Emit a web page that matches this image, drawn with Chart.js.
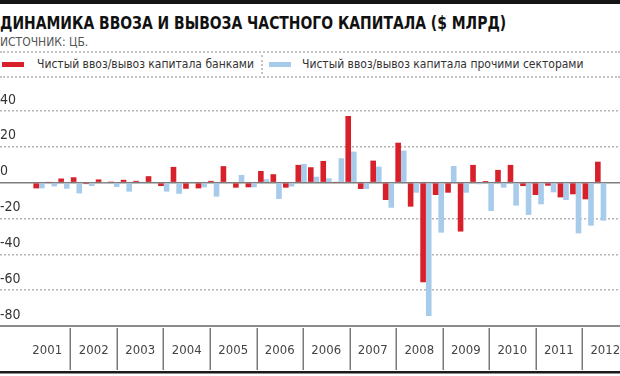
<!DOCTYPE html>
<html>
<head>
<meta charset="utf-8">
<script src="https://cdn.jsdelivr.net/npm/chart.js@4.4.1/dist/chart.umd.min.js"></script>
<style>
  body { margin: 0; width: 620px; height: 376px; overflow: hidden; background: #fff; position: relative;
         font-family: 'Liberation Sans Narrow', 'DejaVu Sans Condensed', 'Liberation Sans', sans-serif; }
  #topline { position: absolute; left: 0; top: 0; width: 620px; height: 4px; background: #151515; }
  #title { position: absolute; left: 0; top: 12px; font-size: 18px; font-weight: bold; color: #111; white-space: nowrap;
           transform: scaleX(0.86); transform-origin: 0 0; }
  #source { position: absolute; left: 0; top: 35px; font-size: 12px; color: #555; white-space: nowrap; }
  #legend { position: absolute; left: 0; top: 51px; width: 620px; height: 23px;
            border-top: 2px dotted #c4c4c4; border-bottom: 2px dotted #c4c4c4; }
  .sw { position: absolute; top: 9px; width: 22px; height: 5px; }
  .lb { position: absolute; top: 4px; font-size: 12px; color: #333; white-space: nowrap; }
  #sep { position: absolute; left: 261px; top: 2px; height: 19px; border-left: 2px dotted #c4c4c4; }
  #chart { position: absolute; left: 0; top: 76px; }
</style>
</head>
<body>
<div id="topline"></div>
<div id="title">ДИНАМИКА ВВОЗА И ВЫВОЗА ЧАСТНОГО КАПИТАЛА ($ МЛРД)</div>
<div id="source">ИСТОЧНИК: ЦБ.</div>
<div id="legend">
  <div class="sw" style="left:2px;background:#d8202b"></div>
  <div class="lb" style="left:37px">Чистый ввоз/вывоз капитала банками</div>
  <div id="sep"></div>
  <div class="sw" style="left:269px;background:#a7cbea"></div>
  <div class="lb" style="left:302px">Чистый ввоз/вывоз капитала прочими секторами</div>
</div>
<canvas id="chart" width="620" height="304"></canvas>
<script>
// quarterly data, 2001 Q1 - 2012 Q2, $ bn
const quarters = [
  '2001 I', '2001 II', '2001 III', '2001 IV', '2002 I', '2002 II', '2002 III', '2002 IV',
  '2003 I', '2003 II', '2003 III', '2003 IV', '2004 I', '2004 II', '2004 III', '2004 IV',
  '2005 I', '2005 II', '2005 III', '2005 IV', '2006 I', '2006 II', '2006 III', '2006 IV',
  '2007 I', '2007 II', '2007 III', '2007 IV', '2008 I', '2008 II', '2008 III', '2008 IV',
  '2009 I', '2009 II', '2009 III', '2009 IV', '2010 I', '2010 II', '2010 III', '2010 IV',
  '2011 I', '2011 II', '2011 III', '2011 IV', '2012 I', '2012 II'
];
const banks = [
  -3.2, 0.3, 2.3, 3.0, -0.8, 1.8, 0.6, 1.6, 1.0, 3.6, -1.9, 8.8,
  -3.4, -3.2, 1.0, 9.2, -2.8, -2.6, 6.5, 4.7, -2.8, 9.9, 8.6, 12.1,
  0.2, 37.2, -3.5, 12.3, -9.7, 22.3, -13.4, -55.6, -6.9, -5.6, -27.3, 9.9,
  0.9, 7.1, 9.9, -1.9, -6.9, -1.7, -8.2, -6.5, -9.3, 11.7
];
const others = [
  -3.2, -2.1, -3.4, -6.0, -1.9, 0.2, -2.4, -5.0, -0.7, 0.4, -5.0, -6.2,
  -0.2, -2.6, -7.8, -0.3, 4.3, -2.6, 1.9, -9.1, -2.2, 10.4, 3.3, 2.4,
  13.6, 17.3, -3.5, 8.9, -14.0, 17.9, -5.6, -74.4, -27.9, 9.3, -5.6, -0.9,
  -15.8, -2.8, -12.8, -18.0, -12.1, -5.4, -9.7, -28.3, -24.0, -21.2
];
// bottom band labels as printed (2006 appears twice in the original)
const years = ['2001', '2002', '2003', '2004', '2005', '2006', '2006', '2007', '2008', '2009', '2010', '2011', '2012'];
const yTicks = [-80, -60, -40, -20, 0, 20, 40];

const narrow = "'Liberation Sans Narrow', 'DejaVu Sans Condensed', 'Liberation Sans', sans-serif";

// year separators and the heavy rule under the year band
const yearBand = {
  id: 'yearBand',
  afterDraw(chart) {
    const ctx = chart.ctx;
    const sc = chart.scales.years;
    const top = chart.chartArea.bottom;
    ctx.save();
    ctx.strokeStyle = '#7a7a7a';
    ctx.lineWidth = 1.5;
    for (let i = 1; i < sc.ticks.length; i++) {
      const x = Math.round(sc.getPixelForTick(i)) + 0.25;
      ctx.beginPath();
      ctx.moveTo(x, top + 2);
      ctx.lineTo(x, top + 44);
      ctx.stroke();
    }
    ctx.fillStyle = '#1b1b1b';
    ctx.fillRect(0, top + 45, chart.width, 2.5);
    ctx.restore();
  }
};

new Chart(document.getElementById('chart').getContext('2d'), {
  type: 'bar',
  data: {
    labels: quarters,
    datasets: [{
      label: 'Чистый ввоз/вывоз капитала банками',
      data: banks.map((v, i) => ({ x: i, y: v })),
      backgroundColor: '#d8202b',
      barPercentage: 1,
      categoryPercentage: 0.9
    }, {
      label: 'Чистый ввоз/вывоз капитала прочими секторами',
      data: others.map((v, i) => ({ x: i, y: v })),
      backgroundColor: '#a7cbea',
      barPercentage: 1,
      categoryPercentage: 0.9
    }]
  },
  options: {
    responsive: false,
    animation: false,
    layout: { padding: { top: 14, bottom: 4, left: 0, right: 0 } },
    plugins: { legend: { display: false }, tooltip: { enabled: false } },
    scales: {
      x: {
        type: 'linear',
        offset: false,
        min: -3.125,
        max: 46.55,
        display: false,
        afterBuildTicks: s => { s.ticks = quarters.map((q, i) => ({ value: i })); }
      },
      years: {
        type: 'linear',
        axis: 'x',
        position: 'bottom',
        offset: false,
        min: -0.516,
        max: 12.817,
        afterBuildTicks: s => { s.ticks = years.map((y, i) => ({ value: i })); },
        grid: { drawOnChartArea: false, drawTicks: false, offset: false },
        border: { display: true, color: '#8c8c8c', width: 2 },
        ticks: {
          autoSkip: false,
          maxRotation: 0,
          labelOffset: 23.25,
          padding: 0,
          color: '#444',
          font: { family: narrow, size: 13, lineHeight: '50px' },
          callback: (v, i) => years[i]
        }
      },
      y: {
        min: -80,
        max: 51.7,
        afterBuildTicks: s => { s.ticks = yTicks.map(v => ({ value: v })); },
        grid: {
          drawTicks: false,
          lineWidth: 1.5,
          color: c => c.tick && c.tick.value === 0 ? '#7d7d7d' : '#b3b3b3'
        },
        border: { display: false, dash: c => c.tick && c.tick.value === 0 ? [] : [2, 2] },
        ticks: {
          mirror: true,
          padding: 0,
          labelOffset: -11,
          color: '#333',
          font: { family: narrow, size: 14 }
        }
      }
    }
  },
  plugins: [yearBand]
});
</script>
</body>
</html>
